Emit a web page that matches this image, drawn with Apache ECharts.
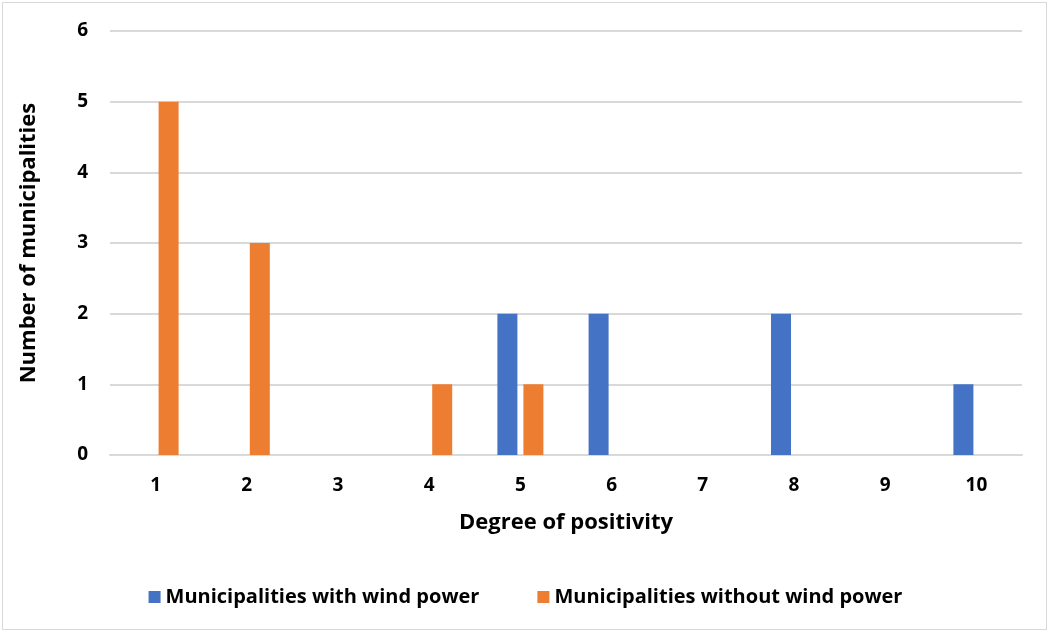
<!DOCTYPE html>
<html><head><meta charset="utf-8">
<script src="https://cdn.jsdelivr.net/npm/echarts@6/dist/echarts.min.js"></script>
<style>
html,body{margin:0;padding:0;background:#fff;}
#frame{position:absolute;left:2px;top:2px;width:1045px;height:628px;border:1px solid #d9d9d9;box-sizing:border-box;}
#c{position:absolute;left:0;top:0;width:1051px;height:634px;}
</style></head><body>
<div id="frame"></div>
<div id="c"></div>
<script>
const categories = ['1','2','3','4','5','6','7','8','9','10'];
const withWind = [0,0,0,0,2,2,0,2,0,1];
const withoutWind = [5,3,0,1,1,0,0,0,0,0];
const seriesNames = ['Municipalities with wind power','Municipalities without wind power'];
const yTicks = [0,1,2,3,4,5,6];

const font = '"Open Sans", sans-serif';
const chart = echarts.init(document.getElementById('c'));
chart.setOption({
  animation:false,
  grid:{left:110,right:29,top:31,bottom:179,containLabel:false},
  legend:{
    bottom:22,left:'center',itemWidth:12,itemHeight:12,itemGap:58,icon:'rect',
    textStyle:{fontFamily:font,fontWeight:'bold',fontSize:20,color:'#000'},
    data:seriesNames
  },
  xAxis:{
    type:'category',data:categories,
    name:'Degree of positivity',nameLocation:'middle',nameGap:57,
    nameTextStyle:{fontFamily:font,fontWeight:'bold',fontSize:22,color:'#000'},
    axisLine:{show:true,lineStyle:{color:'#d9d9d9',width:2}},
    axisTick:{show:false},
    axisLabel:{fontFamily:font,fontWeight:'bold',fontSize:19,color:'#000',margin:21}
  },
  yAxis:{
    type:'value',min:0,max:6,interval:1,
    name:'Number of municipalities',nameLocation:'middle',nameGap:70,nameRotate:90,
    nameTextStyle:{fontFamily:font,fontWeight:'bold',fontSize:22,color:'#000'},
    axisLine:{show:false},axisTick:{show:false},
    axisLabel:{fontFamily:font,fontWeight:'bold',fontSize:19,color:'#000',margin:22,
      formatter:v=>yTicks.includes(v)?String(v):''},
    splitLine:{lineStyle:{color:'#d9d9d9',width:2}}
  },
  series:[
    {name:seriesNames[0],type:'bar',data:withWind,barWidth:20,barGap:'30%',
     itemStyle:{color:'#4472C4'}},
    {name:seriesNames[1],type:'bar',data:withoutWind,barWidth:20,barGap:'30%',
     itemStyle:{color:'#ED7D31'}}
  ]
});
</script>
</body></html>
